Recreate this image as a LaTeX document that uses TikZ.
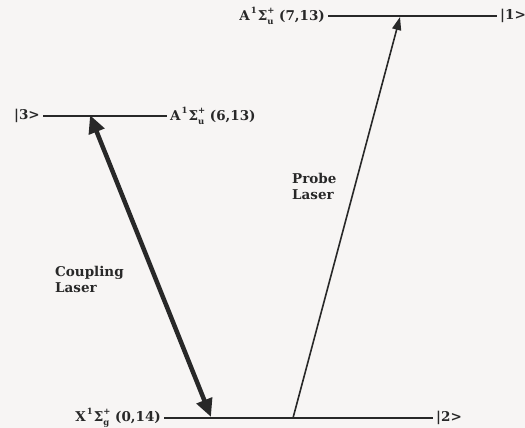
\documentclass[tikz,border=0pt]{standalone}
\usepackage{fontspec}
\setmainfont{DejaVu Serif}
\usetikzlibrary{arrows.meta}
\definecolor{paper}{RGB}{247,245,244}
\definecolor{ink}{RGB}{40,40,40}
\newcommand{\idx}{\fontsize{8.5}{8.5}\selectfont}
\newcommand{\term}[3]{#1\kern1pt\raisebox{1.0ex}{\idx 1}\kern1pt Σ\rlap{\raisebox{-0.6ex}{\idx #2}}\raisebox{1.0ex}{\idx +}\ (#3)}

\begin{document}
\begin{tikzpicture}[x=1pt,y=-1pt,
    level/.style={line width=2.4pt, draw=ink},
    lab/.style={text=ink, font=\bfseries\fontsize{13.5}{15}\selectfont, inner sep=3pt},
    beam/.style={text=ink, font=\bfseries\fontsize{13.5}{16}\selectfont, align=left, inner sep=0pt}]
    \fill[paper] (0,0) rectangle (525,428);
    \useasboundingbox (0,0) rectangle (525,428);
    \coordinate (x1) at (164,418);
    \coordinate (x2) at (433,418);
    \coordinate (a1) at (43,116);
    \coordinate (a2) at (167,116);
    \coordinate (b1) at (328,16);
    \coordinate (b2) at (497,16);
    \draw[level] (x1) -- (x2);
    \draw[level] (a1) -- (a2);
    \draw[level] (b1) -- (b2);
    \node[lab, anchor=east] (xl) at (x1) {\term{X}{g}{0,14}};
    \node[lab, anchor=west] (xk) at (x2) {|2>};
    \node[lab, anchor=east] (al) at (a1) {|3>};
    \node[lab, anchor=west] (ak) at (a2) {\term{A}{u}{6,13}};
    \node[lab, anchor=east] (bl) at (b1) {\term{A}{u}{7,13}};
    \node[lab, anchor=west] (bk) at (b2) {|1>};
    \coordinate (c1) at (90,115);
    \coordinate (c2) at (211,417);
    \draw[line width=4.5pt, draw=ink, {Triangle[length=18pt,width=16pt]}-{Triangle[length=18pt,width=16pt]}] (c1) -- (c2);
    \coordinate (p1) at (293,418);
    \coordinate (p2) at (400,17);
    \draw[line width=1.6pt, draw=ink, -{Triangle[length=13pt,width=9pt]}] (p1) -- (p2);
    \node[beam, anchor=north west] (cl) at (55,266) {Coupling\\Laser};
    \node[beam, anchor=north west] (pl) at (292,173) {Probe\\Laser};
\end{tikzpicture}
\end{document}
